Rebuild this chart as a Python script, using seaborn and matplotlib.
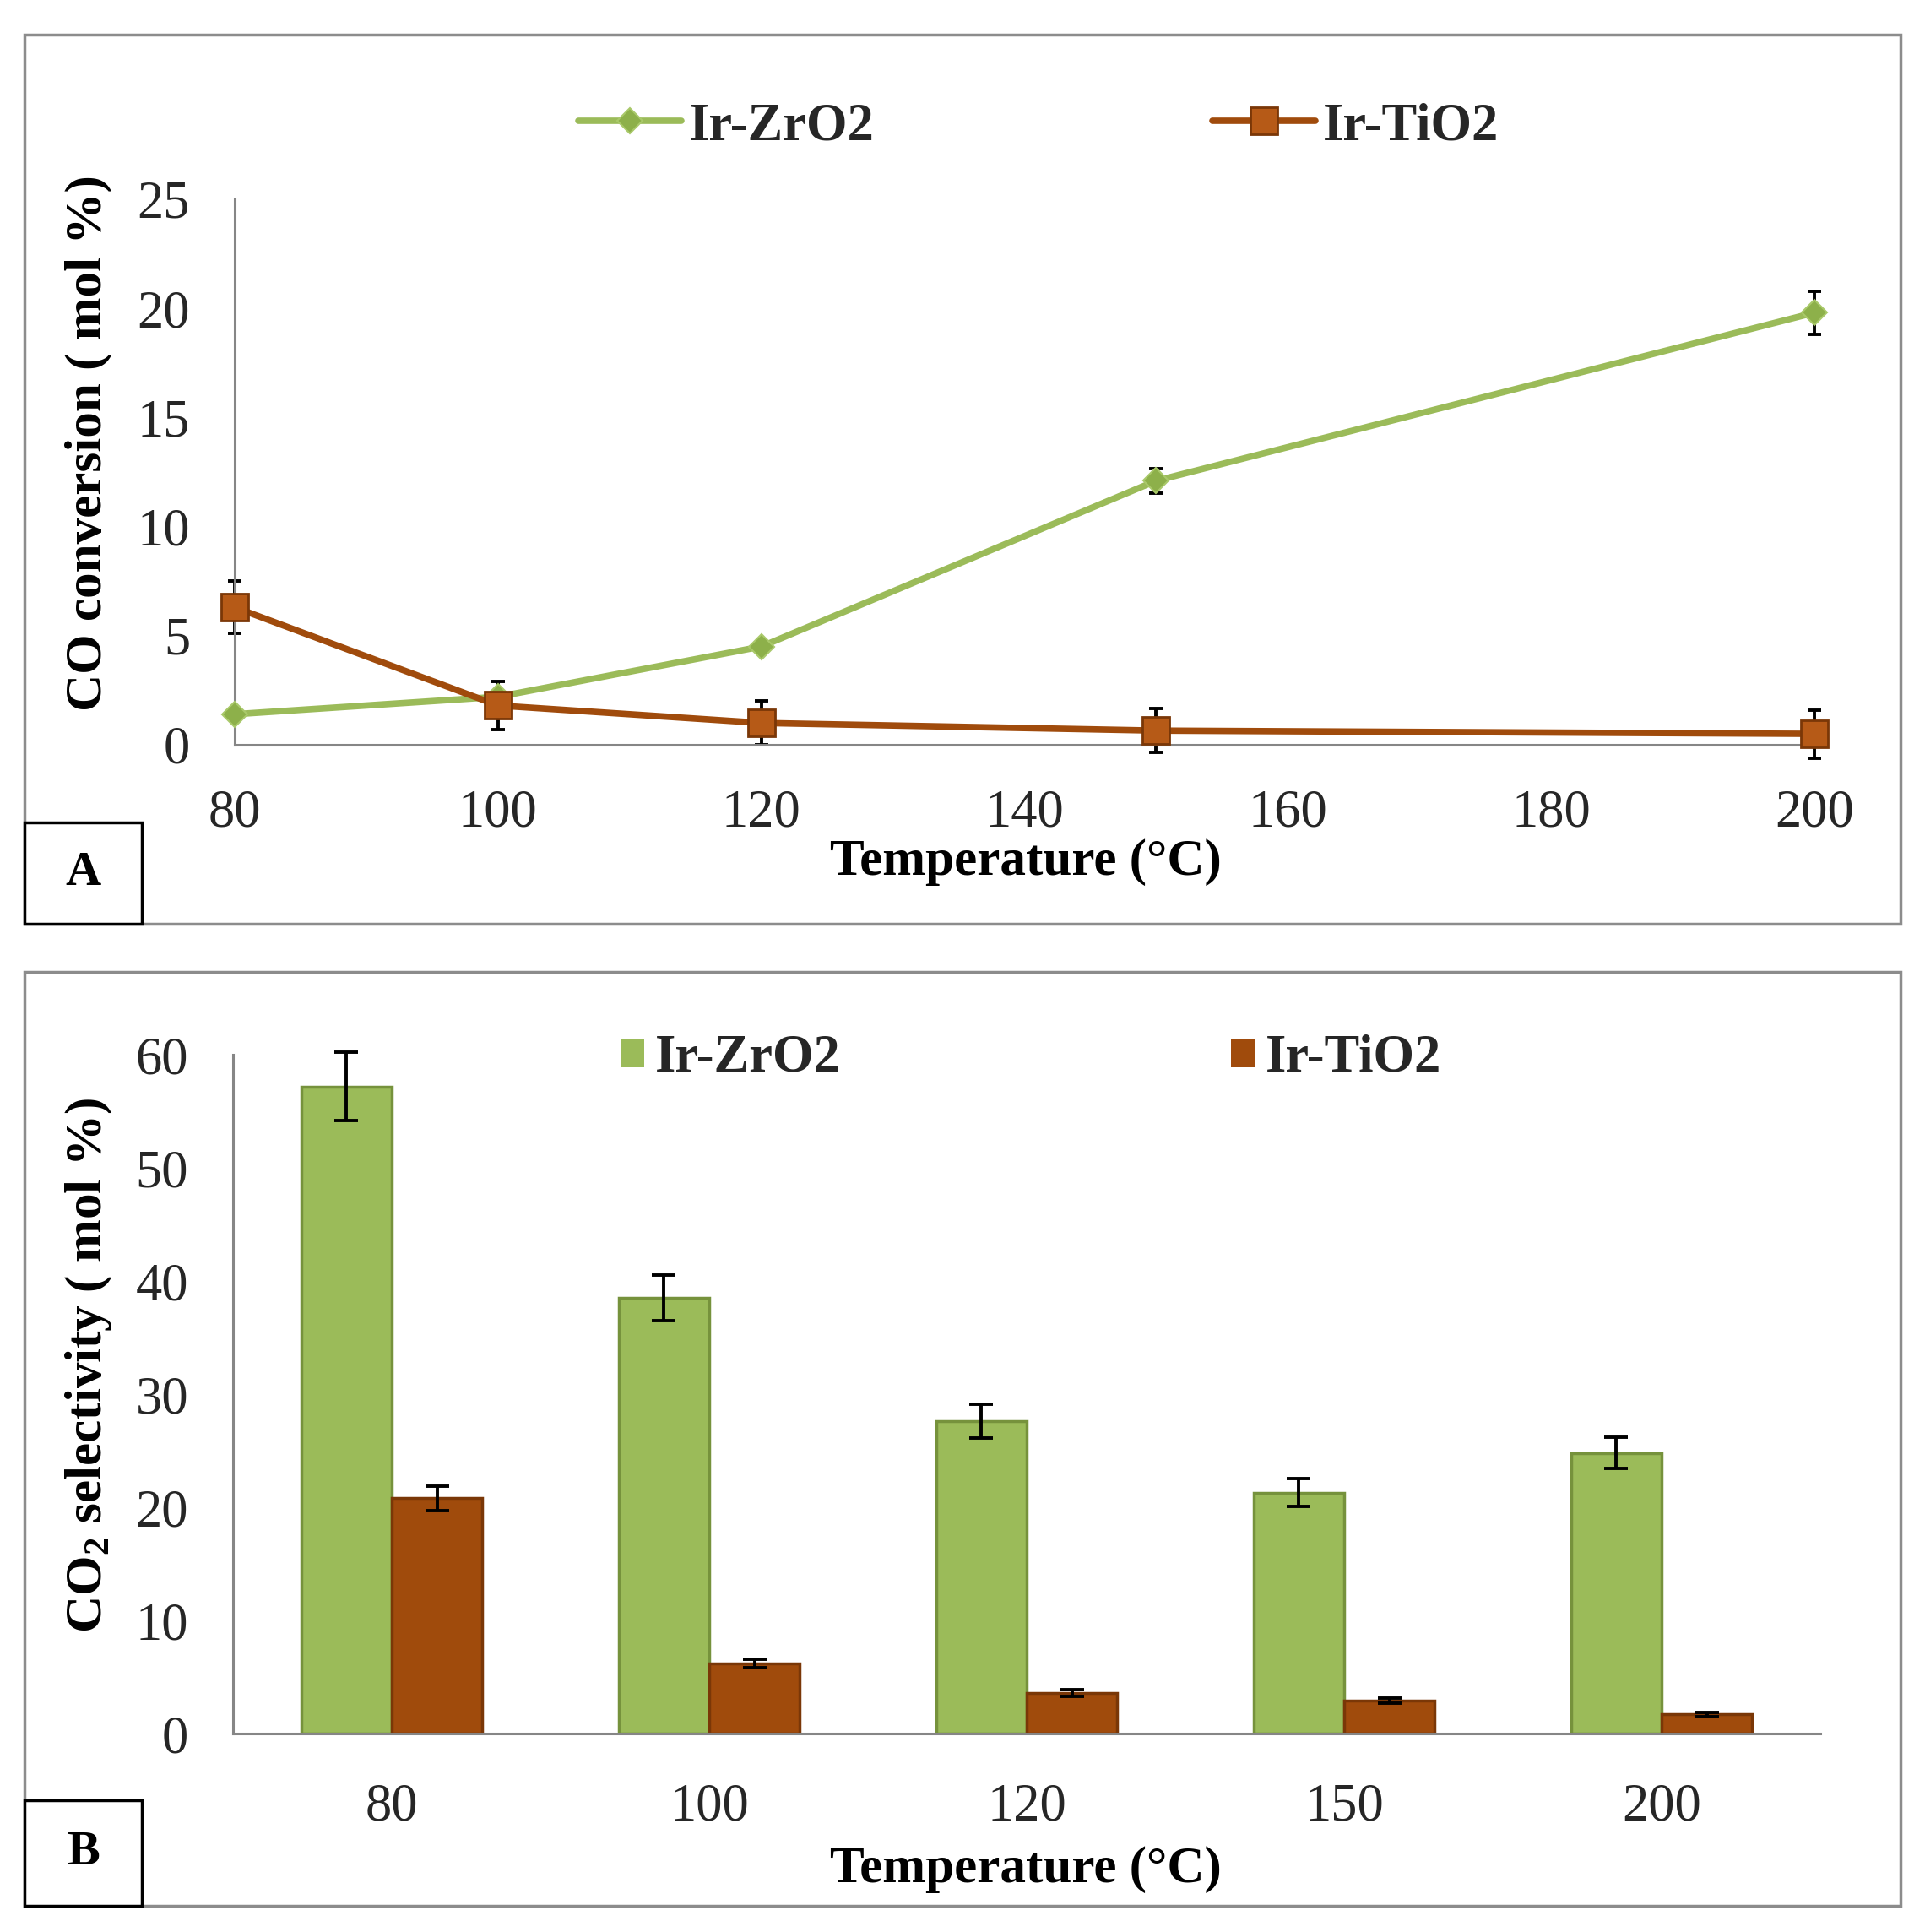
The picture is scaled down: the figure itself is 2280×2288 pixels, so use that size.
import pandas as pd
import seaborn as sns
import matplotlib.pyplot as plt
from matplotlib.patches import Rectangle

# panel A data: CO conversion vs temperature
tempA = [80, 100, 120, 150, 200]
zro2_conv = [1.4, 2.2, 4.5, 12.1, 19.8]
zro2_conv_err = [0.2, 0.2, 0.2, 0.55, 1.0]
tio2_conv = [6.3, 1.8, 1.0, 0.65, 0.5]
tio2_conv_err = [1.2, 1.1, 1.0, 1.0, 1.1]

# panel B data: CO2 selectivity
tempB = ['80', '100', '120', '150', '200']
zro2_sel = [57.2, 38.5, 27.6, 21.3, 24.8]
zro2_sel_err = [3.0, 2.0, 1.5, 1.25, 1.4]
tio2_sel = [20.8, 6.2, 3.6, 2.9, 1.7]
tio2_sel_err = [1.1, 0.4, 0.3, 0.2, 0.2]

GREEN = '#9BBB59'
GREEN_DK = '#76923C'
BROWN = '#A04B0C'
BROWN_DK = '#7A3707'
AXGREY = '#868686'
TXT = '#262626'

W, H = 2280, 2288

sns.set_theme(style='white')
plt.rcParams['font.family'] = ['Liberation Serif', 'DejaVu Serif']
plt.rcParams['mathtext.fontset'] = 'custom'
plt.rcParams['mathtext.rm'] = 'Liberation Serif'
plt.rcParams['mathtext.bf'] = 'Liberation Serif:bold'

fig = plt.figure(figsize=(W / 100, H / 100), dpi=100)


def frac(x0, y0, x1, y1):
    return [x0 / W, 1 - y1 / H, (x1 - x0) / W, (y1 - y0) / H]


# panel frames and letter boxes
for (x0, y0, x1, y1) in [(29, 41, 2251, 1094), (29, 1151, 2251, 2257)]:
    fig.add_artist(Rectangle((x0 / W, 1 - y1 / H), (x1 - x0) / W, (y1 - y0) / H,
                             transform=fig.transFigure, fill=False,
                             edgecolor='#8C8C8C', linewidth=2.5))
for (x0, y0, x1, y1), lab in [((29, 974, 168, 1094), 'A'), ((29, 2132, 168, 2257), 'B')]:
    fig.add_artist(Rectangle((x0 / W, 1 - y1 / H), (x1 - x0) / W, (y1 - y0) / H,
                             transform=fig.transFigure, fill=True, facecolor='white',
                             edgecolor='black', linewidth=2.5))
    fig.text((x0 + x1) / 2 / W, 1 - (y0 + y1) / 2 / H, lab, ha='center', va='center',
             fontsize=42, fontweight='bold', color='black')


def style_axes(ax):
    sns.despine(ax=ax)
    for s in ['left', 'bottom']:
        ax.spines[s].set_color(AXGREY)
        ax.spines[s].set_linewidth(2.2)
    ax.tick_params(axis='both', colors=AXGREY, labelcolor=TXT, labelsize=45,
                   width=2.2, length=14, direction='out', pad=24)


# ---------- panel A ----------
axA = fig.add_axes(frac(278, 236, 2149, 882))
dfA = pd.DataFrame({'temp': tempA * 2,
                    'conv': zro2_conv + tio2_conv,
                    'catalyst': ['Ir-ZrO2'] * 5 + ['Ir-TiO2'] * 5})

axA.errorbar(tempA, zro2_conv, yerr=zro2_conv_err, fmt='none', ecolor='black',
             elinewidth=2.8, capsize=6, capthick=2.8, zorder=2, clip_on=False)
axA.errorbar(tempA, tio2_conv, yerr=tio2_conv_err, fmt='none', ecolor='black',
             elinewidth=2.8, capsize=6, capthick=2.8, zorder=2, clip_on=False)

sns.lineplot(data=dfA[dfA.catalyst == 'Ir-ZrO2'], x='temp', y='conv', ax=axA,
             color=GREEN, linewidth=5.5, marker='D', markersize=15,
             markerfacecolor='#8DB04A', markeredgecolor='#A9C96A', markeredgewidth=1.5,
             label='Ir-ZrO2', clip_on=False, zorder=3)
sns.lineplot(data=dfA[dfA.catalyst == 'Ir-TiO2'], x='temp', y='conv', ax=axA,
             color=BROWN, linewidth=5.5, marker='s', markersize=23,
             markerfacecolor='#B65A17', markeredgecolor=BROWN_DK, markeredgewidth=2,
             label='Ir-TiO2', clip_on=False, zorder=4)

axA.set_xlim(80, 200)
axA.set_ylim(0, 25)
axA.set_xticks(range(80, 201, 20))
axA.set_yticks(range(0, 26, 5))
style_axes(axA)
axA.set_xlabel('Temperature (°C)', fontsize=44, fontweight='bold', color='black')
axA.set_ylabel('CO conversion ( mol %)', fontsize=44, fontweight='bold', color='black')
axA.xaxis.label.set_va('center')
axA.yaxis.label.set_va('center')
axA.xaxis.set_label_coords(0.501, -0.215)
axA.yaxis.set_label_coords(-0.0925, 0.553)
h, l = axA.get_legend_handles_labels()
axA.legend(h, l, ncol=2, loc='center', bbox_to_anchor=(0.509, 1.133), frameon=False,
           prop={'size': 45, 'weight': 'bold'}, handlelength=1.95, handletextpad=0.15,
           columnspacing=6.4)

# ---------- panel B ----------
axB = fig.add_axes(frac(276, 1249, 2156, 2053))
dfB = pd.DataFrame({'temp': tempB * 2,
                    'sel': zro2_sel + tio2_sel,
                    'catalyst': ['Ir-ZrO2'] * 5 + ['Ir-TiO2'] * 5})
sns.barplot(data=dfB, x='temp', y='sel', hue='catalyst', ax=axB,
            palette={'Ir-ZrO2': GREEN, 'Ir-TiO2': BROWN}, width=0.57, gap=0,
            errorbar=None, edgecolor=None, linewidth=0, saturation=1, zorder=2)
edges = [GREEN_DK, BROWN_DK]
for cont, err, ec in zip(axB.containers, [zro2_sel_err, tio2_sel_err], edges):
    xs = [b.get_x() + b.get_width() / 2 for b in cont]
    ys = [b.get_height() for b in cont]
    for b in cont:
        b.set_edgecolor(ec)
        b.set_linewidth(2.5)
    axB.errorbar(xs, ys, yerr=err, fmt='none', ecolor='black', elinewidth=2.8,
                 capsize=10, capthick=2.8, zorder=5, clip_on=False)

axB.set_xlim(-0.5, 4.5)
axB.set_ylim(0, 60)
axB.set_yticks(range(0, 61, 10))
style_axes(axB)
axB.set_xticks([i + 0.5 for i in range(-1, 5)], minor=True)
axB.tick_params(axis='x', which='major', length=0, pad=42)
axB.tick_params(axis='x', which='minor', length=14, width=2.2, color=AXGREY)
axB.set_xlabel('Temperature (°C)', fontsize=44, fontweight='bold', color='black')
axB.set_ylabel(r'CO$_\mathbf{2}$ selectivity ( mol %)', fontsize=44, fontweight='bold',
               color='black')
axB.xaxis.label.set_va('center')
axB.yaxis.label.set_va('center')
axB.xaxis.set_label_coords(0.4995, -0.2)
axB.yaxis.set_label_coords(-0.091, 0.542)
h, l = axB.get_legend_handles_labels()
axB.legend(h, l, ncol=2, loc='center', bbox_to_anchor=(0.5027, 0.9938), frameon=False,
           prop={'size': 45, 'weight': 'bold'}, handlelength=0.45, handleheight=0.45,
           handletextpad=0.2, columnspacing=7.4)

plt.savefig('out.png', dpi=100)
